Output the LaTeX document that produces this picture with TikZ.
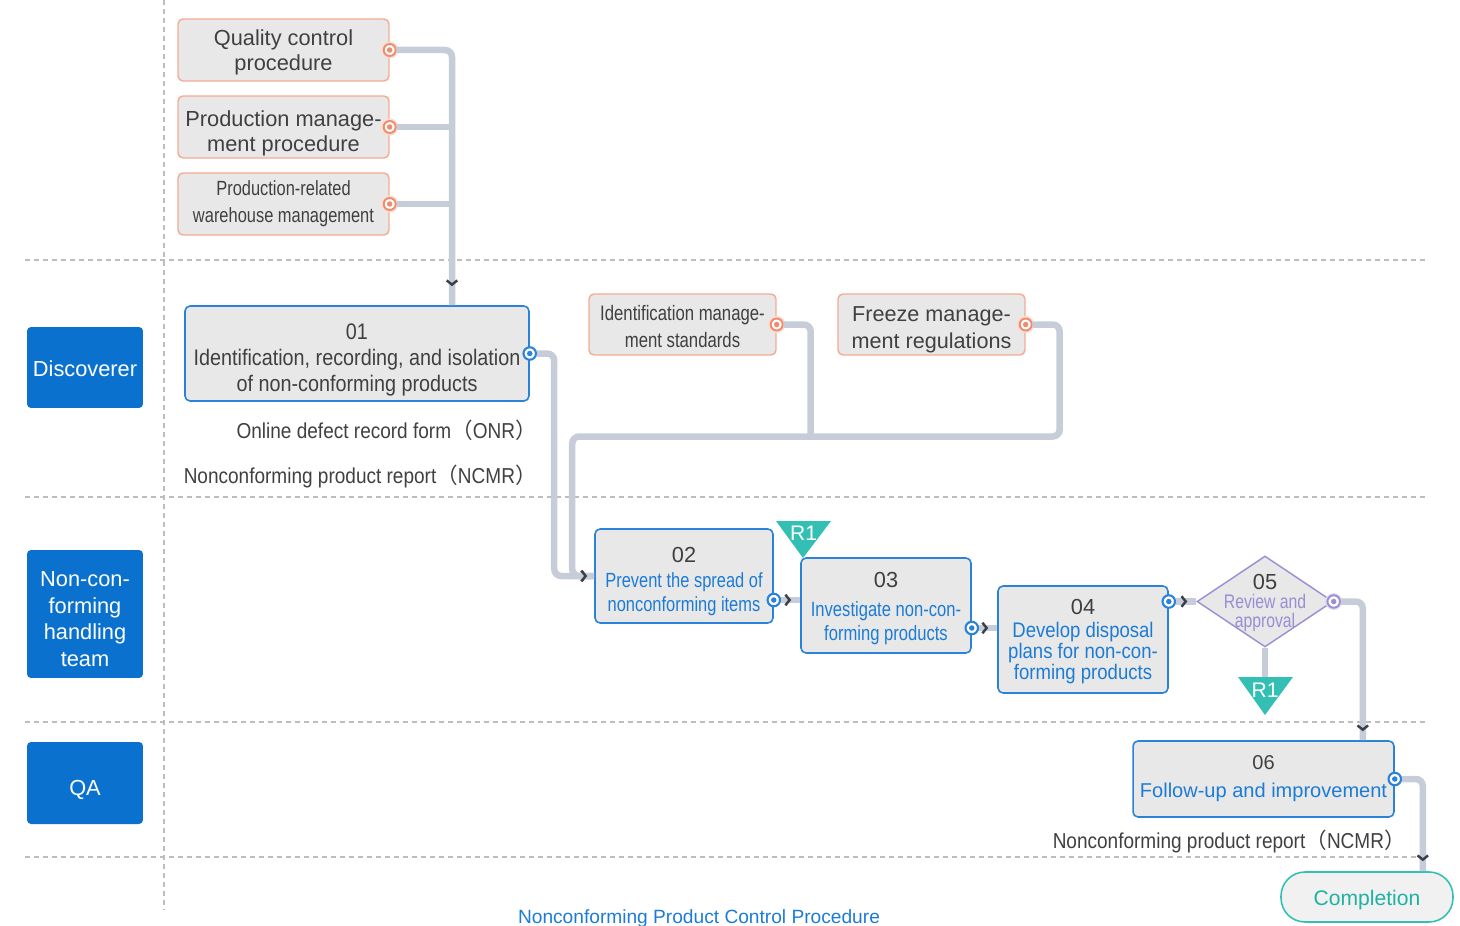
\documentclass[tikz,border=0pt]{standalone}
\usepackage{fontspec}
\setmainfont{Liberation Sans}
\newfontfamily\narrowfont{Liberation Sans}[FakeStretch=0.88]
\newfontfamily\condfont{Liberation Sans}[FakeStretch=0.8]
\newfontfamily\cjk{Noto Sans CJK SC}
\usepackage{xcolor}
\usepackage{tikz}
\usetikzlibrary{arrows.meta}
\usetikzlibrary{shapes.geometric, calc, decorations.markings}
\definecolor{laneblue}{HTML}{0A72CE}
\definecolor{boxgray}{HTML}{E8E8E8}
\definecolor{stepblue}{HTML}{2B83D9}
\definecolor{txtblue}{HTML}{1C7CD5}
\definecolor{txtdark}{HTML}{404040}
\definecolor{refline}{HTML}{F5AA92}
\definecolor{portorange}{HTML}{F08C6E}
\definecolor{connline}{HTML}{C6CDD9}
\definecolor{chevcol}{HTML}{3A3F4A}
\definecolor{tagteal}{HTML}{34BFB5}
\definecolor{donetxt}{HTML}{1FB1A4}
\definecolor{revpurple}{HTML}{9A8DD2}
\definecolor{sepgray}{HTML}{BDBDBD}

% abaisse le texte d'un noeud
\newcommand\dnby[1]{\rule{0pt}{\dimexpr0.75em+#1\relax}}
% numero d'etape
\newcommand\stepno[1]{{\normalfont\fontsize{12.4}{14}\selectfont #1}}

\tikzset{
  chev/.tip={Straight Barb[line width=1.4pt, length=2.4pt, width=6pt, color=chevcol]},
  conn/.style={draw=connline, line width=0.13cm, rounded corners=0.14cm},
  flow/.style={conn, postaction={decorate, decoration={markings, mark=at position #1 with {\arrow{chev}}}}},
  flow/.default=-0.18cm,
  lanesep/.style={draw=sepgray, line width=0.6pt, dash pattern=on 0.1cm off 0.08cm},
  lanebox/.style={fill=laneblue, rounded corners=0.08cm, text=white, align=center,
    minimum width=2.32cm, inner sep=0pt, font=\fontsize{12.4}{15.3}\selectfont},
  refbox/.style={draw=refline, fill=boxgray, line width=0.8pt, rounded corners=0.1cm,
    text=txtdark, align=center, inner sep=0pt},
  stepbox/.style={draw=stepblue, fill=boxgray, line width=0.9pt, rounded corners=0.1cm,
    text=txtdark, align=center, inner sep=0pt},
  revdiamond/.style={diamond, aspect=1.5, draw=revpurple, fill=boxgray, line width=0.8pt, inner sep=0pt},
  donebox/.style={draw=tagteal, fill=boxgray!60, line width=0.9pt, rounded corners=0.48cm,
    text=donetxt, font=\fontsize{12}{14}\selectfont},
  docnote/.style={anchor=east, text=txtdark, inner sep=0pt, font=\narrowfont\fontsize{12.3}{14}\selectfont},
  tagtext/.style={text=white, inner sep=0pt, font=\fontsize{12}{14}\selectfont},
  porto/.style={circle, draw=portorange, line width=1.1pt, fill=white, inner sep=0pt, minimum size=0.24cm,
    preaction={draw=portorange!30, line width=3pt},
    path picture={\fill[portorange] (path picture bounding box.center) circle (0.055cm);}},
  portb/.style={circle, draw=stepblue, line width=1.2pt, fill=white, inner sep=0pt, minimum size=0.25cm,
    path picture={\fill[stepblue] (path picture bounding box.center) circle (0.055cm);}},
  portp/.style={circle, draw=revpurple, line width=1.1pt, fill=white, inner sep=0pt, minimum size=0.25cm,
    preaction={draw=revpurple!30, line width=2.5pt},
    path picture={\fill[revpurple] (path picture bounding box.center) circle (0.055cm);}}
}

\begin{document}
\begin{tikzpicture}[x=0.02cm, y=-0.02cm]
    \useasboundingbox (0,0) rectangle (1460,926);

    % Couloirs
    \draw[lanesep] (164,0) -- (164,910);
    \draw[lanesep] (25,260) -- (1425,260);
    \draw[lanesep] (25,497) -- (1425,497);
    \draw[lanesep] (25,722) -- (1425,722);
    \draw[lanesep] (25,857) -- (1425,857);

    % Roles
    \node[lanebox, minimum height=1.62cm] (disc) at (85,367.5) {\dnby{1pt}Discoverer};
    \node[lanebox, minimum height=2.56cm] (team) at (85,614) {\dnby{5pt}Non-con-\\forming\\handling\\team};
    \node[lanebox, minimum height=1.64cm] (qa) at (85,783) {\dnby{6.8pt}QA};

    % Documents de reference
    \node[refbox, minimum width=4.22cm, minimum height=1.24cm, font=\fontsize{12.4}{14.2}\selectfont] (qcp) at (283.5,50) {\dnby{2.8pt}Quality control\\procedure};
    \node[refbox, minimum width=4.22cm, minimum height=1.24cm, font=\fontsize{12.4}{14.6}\selectfont] (pmp) at (283.5,127) {\dnby{7pt}Production manage-\\ment procedure};
    \node[refbox, minimum width=4.22cm, minimum height=1.24cm, font=\condfont\fontsize{11.7}{15.3}\selectfont] (prw) at (283.5,204) {Production-related\\warehouse management};
    \node[refbox, minimum width=3.74cm, minimum height=1.22cm, font=\condfont\fontsize{11.9}{15.3}\selectfont] (ims) at (682.5,324.5) {\dnby{2.3pt}Identification manage-\\ment standards};
    \node[refbox, minimum width=3.74cm, minimum height=1.22cm, font=\fontsize{12.3}{15.3}\selectfont] (fmr) at (931.5,324.5) {\dnby{5pt}Freeze manage-\\ment regulations};

    % Etapes
    \node[stepbox, minimum width=6.88cm, minimum height=1.9cm, font=\narrowfont\fontsize{12.8}{14.7}\selectfont] (n01) at (357,353.5) {\dnby{6.8pt}01\\Identification, recording, and isolation\\of non-conforming products};
    \node[stepbox, minimum width=3.56cm, minimum height=1.88cm, font=\condfont\fontsize{11.7}{14}\selectfont] (n02) at (684,576) {\dnby{6.2pt}\stepno{02}\\\textcolor{txtblue}{Prevent the spread of}\\\textcolor{txtblue}{nonconforming items}};
    \node[stepbox, minimum width=3.4cm, minimum height=1.9cm, font=\condfont\fontsize{11.8}{13.6}\selectfont] (n03) at (886,605.5) {\dnby{2.8pt}\stepno{03}\\[3pt]\textcolor{txtblue}{Investigate non-con-}\\\textcolor{txtblue}{forming products}};
    \node[stepbox, minimum width=3.4cm, minimum height=2.14cm, font=\narrowfont\fontsize{12}{12}\selectfont] (n04) at (1083,639.5) {\dnby{2.3pt}\stepno{04}\\[1pt]\textcolor{txtblue}{Develop disposal}\\\textcolor{txtblue}{plans for non-con-}\\\textcolor{txtblue}{forming products}};
    \node[revdiamond, minimum width=2.72cm, minimum height=1.82cm] (n05) at (1265,601.5) {};
    \node[align=center, inner sep=0pt, font=\condfont\fontsize{11.2}{10.6}\selectfont] (t05) at ($(n05)+(0,1.5)$) {\textcolor{txtdark}{\stepno{05}}\\\textcolor{revpurple}{Review and}\\\textcolor{revpurple}{approval}};
    \node[stepbox, minimum width=5.22cm, minimum height=1.52cm, font=\fontsize{11.4}{15.9}\selectfont] (n06) at (1263.5,779) {06\\\textcolor{txtblue}{Follow-up and improvement}};
    \node[donebox, minimum width=3.44cm, minimum height=1.0cm] (done) at (1367,897) {\dnby{3.4pt}Completion};

    % Formulaires
    \node[docnote] (onr) at (537,430) {Online defect record form{\cjk （}ONR{\cjk ）}};
    \node[docnote] (ncmr) at (537,476) {Nonconforming product report{\cjk （}NCMR{\cjk ）}};
    \node[docnote] (ncmr2) at (1406,841) {Nonconforming product report{\cjk （}NCMR{\cjk ）}};

    % Ports
    \node[porto] (pq) at (qcp.east) {};
    \node[porto] (pp) at (pmp.east) {};
    \node[porto] (pr) at (prw.east) {};
    \node[porto] (pi) at (ims.east) {};
    \node[porto] (pf) at (fmr.east) {};
    \node[portb] (p01) at (n01.east) {};
    \node[portb] (p02) at ($(n02.east)+(0,24)$) {};
    \node[portb] (p03) at ($(n03.east)+(0,22.5)$) {};
    \node[portb] (p04) at ($(n04.east)+(0,-38)$) {};
    \node[portp] (p05) at (n05.east) {};
    \node[portb] (p06) at (n06.east) {};

    % Liaisons vers 01
    \coordinate (in01) at ($(n01.north)+(95,0)$);
    \draw[flow=-0.38cm] (pq) -| (in01);
    \draw[conn] (pp) -- (pp -| in01);
    \draw[conn] (pr) -- (pr -| in01);

    % Liaisons vers 02
    \draw[flow=-0.14cm] (p01) -| ($(n02.west)+(-40,0)$) -- (n02.west);
    \draw[conn] (pi) -| ($(pi)+(34,112)$);
    \draw[flow=-0.14cm] (pf) -| ($(pf)+(34,112)$) -| ($(n02.west)+(-22,0)$) -- (n02.west);

    % Suite du traitement
    \draw[flow] (p02) -- (p02 -| n03.west);
    \draw[flow] (p03) -- (p03 -| n04.west);
    \draw[flow] (p04) -- (n05.west);
    \draw[flow] (p05) -| ($(n06.north east)+(-32,0)$);
    \coordinate (r1in) at ($(n05.south)+(0,30)$);
    \draw[conn] (n05.south) -- (r1in);
    \draw[flow=-0.2cm] (p06) -| ($(done.north east)+(-31,0)$);

    % Marques R1
    \fill[tagteal] (776,521) -- (831,521) -- (803,558) -- cycle;
    \node[tagtext] (r1a) at (803.5,533) {R1};
    \fill[tagteal] (1238,677) -- (1293,677) -- (1265,715) -- cycle;
    \node[tagtext] (r1b) at (1265,690) {R1};

    % Titre
    \node[text=txtblue, font=\fontsize{10.9}{12}\selectfont] (title) at (699,919) {Nonconforming Product Control Procedure};
\end{tikzpicture}
\end{document}
